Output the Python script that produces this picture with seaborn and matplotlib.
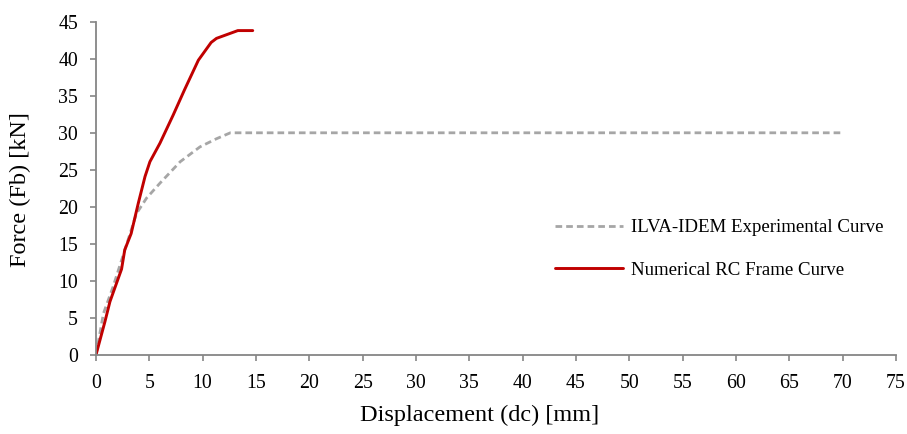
import numpy as np
import pandas as pd
import matplotlib
matplotlib.use("Agg")
import matplotlib.pyplot as plt
import seaborn as sns

# Experimental curve (ILVA-IDEM)
exp_disp = [0, 0.7, 1.6, 2.4, 3.2, 3.8, 4.75, 6.0, 7.9, 9.75, 11.3, 12.6, 70.0]
exp_force = [0, 5.6, 9.2, 12.8, 16.4, 19.1, 21.2, 23.2, 26.1, 28.1, 29.2, 30.0, 30.0]

# Numerical RC frame curve
num_disp = [0, 0.84, 1.31, 2.4, 2.7, 3.3, 3.97, 4.6, 5.06, 6.0, 7.24, 8.3, 9.6, 10.8, 11.3, 13.3, 14.7]
num_force = [0, 4.5, 7.2, 11.6, 14.2, 16.4, 20.5, 24.1, 26.1, 28.6, 32.4, 35.8, 39.8, 42.2, 42.75, 43.8, 43.8]

x_ticks = list(range(0, 80, 5))
y_ticks = list(range(0, 50, 5))

exp_df = pd.DataFrame({"disp": exp_disp, "force": exp_force})
num_df = pd.DataFrame({"disp": num_disp, "force": num_force})

sns.set_theme(style="white")
plt.rcParams["font.family"] = ["Liberation Serif", "DejaVu Serif"]
plt.rcParams["text.color"] = "black"

fig = plt.figure(figsize=(9.07, 4.34), dpi=100)
ax = fig.add_axes([0.1058, 0.182, 0.8820, 0.768])

sns.lineplot(data=exp_df, x="disp", y="force", ax=ax, sort=False,
             color="#a6a6a6", linewidth=2.0, linestyle=(0, (2.4, 1.45)),
             label="ILVA-IDEM Experimental Curve")
sns.lineplot(data=num_df, x="disp", y="force", ax=ax, sort=False,
             color="#c00000", linewidth=2.1,
             label="Numerical RC Frame Curve")

ax.set_xlim(0, 75)
ax.set_ylim(0, 45)
ax.set_xticks(x_ticks)
ax.set_yticks(y_ticks)
ax.tick_params(axis="both", direction="out", length=4.5, width=1.2,
               color="#868686", labelcolor="black", labelsize=14.3,
               bottom=True, left=True)
ax.tick_params(axis="x", pad=9)
ax.tick_params(axis="y", pad=8.5)

for side in ["top", "right"]:
    ax.spines[side].set_visible(False)
for side in ["left", "bottom"]:
    ax.spines[side].set_color("#868686")
    ax.spines[side].set_linewidth(1.3)

ax.set_xlabel("Displacement (dc) [mm]", fontsize=17.5, color="black")
ax.set_ylabel("Force (Fb) [kN]", fontsize=17.5, color="black")
ax.xaxis.set_label_coords(0.479, -0.15)
ax.yaxis.set_label_coords(-0.081, 0.495)

ax.legend(loc="center left", bbox_to_anchor=(547.6 / 907, (434 - 249) / 434),
          bbox_transform=fig.transFigure, borderaxespad=0, frameon=False,
          fontsize=13.6, handlelength=3.6, handletextpad=0.4,
          labelspacing=1.35)

fig.savefig("out.png", dpi=100)
